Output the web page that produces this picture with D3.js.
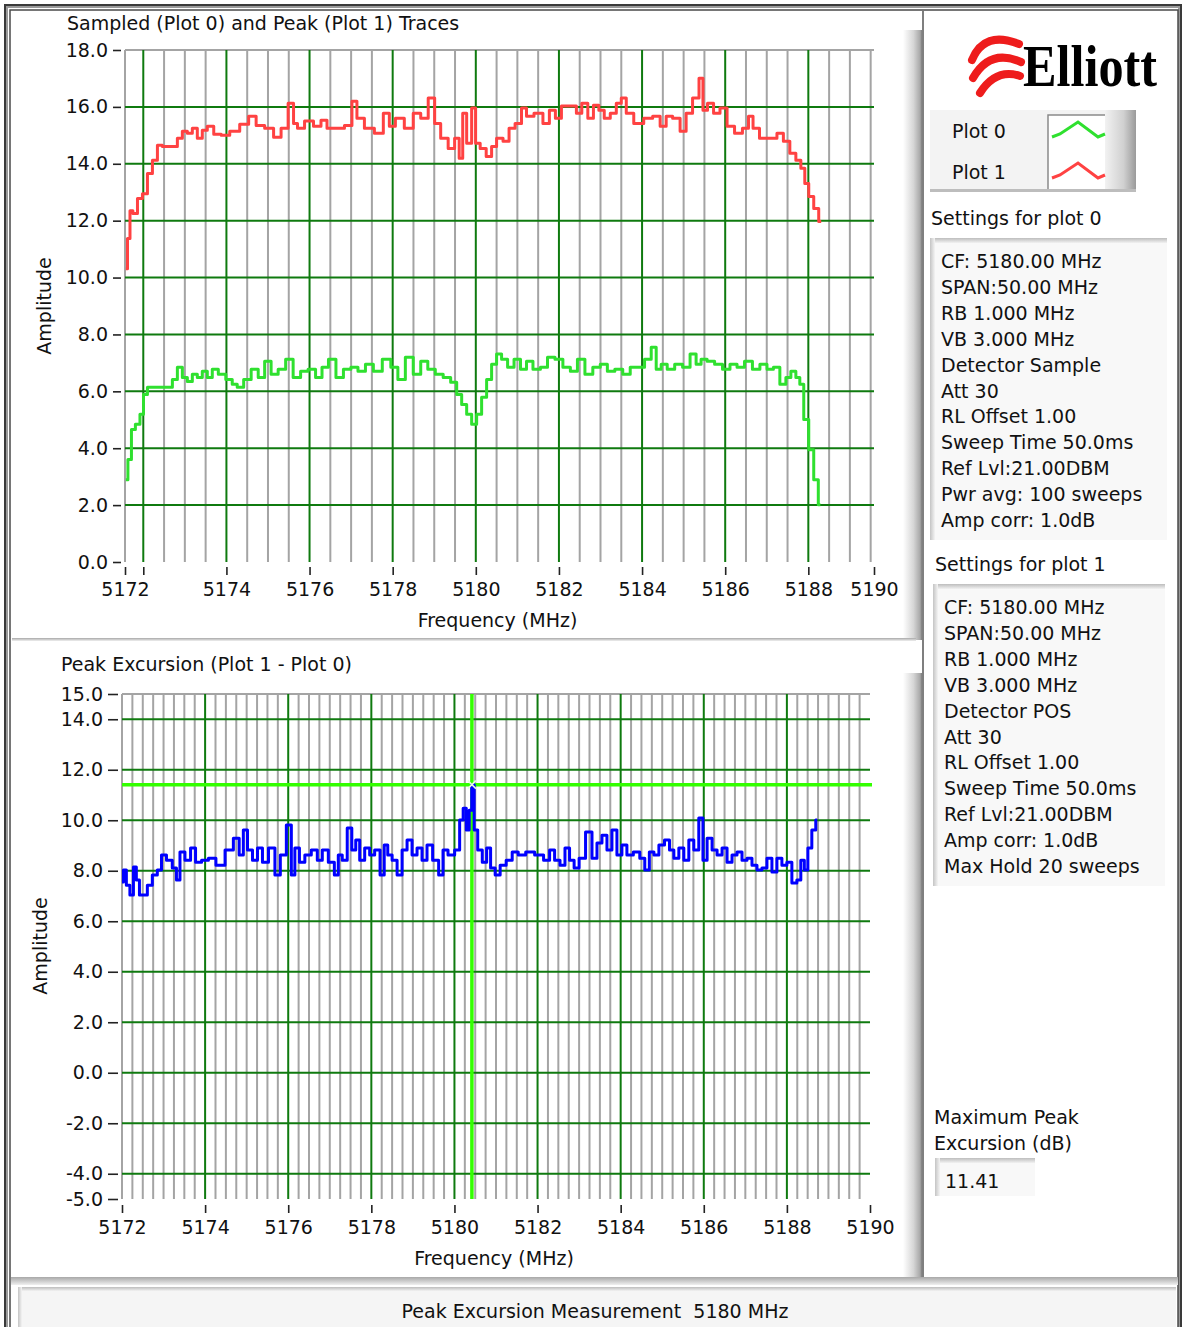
<!DOCTYPE html>
<html><head><meta charset="utf-8">
<script src="https://cdn.jsdelivr.net/npm/d3@7"></script>
<style>
body{margin:0;background:#fff;}
svg{display:block;font-family:"DejaVu Sans",sans-serif;}
</style></head><body>
<svg id="c" width="1183" height="1327"></svg>
<script>
// ---------------- DATA ----------------
// Plot 1 (Peak trace, red)
const peakFreq=[5171.58,5171.66,5171.70,5171.80,5171.92,5172.04,5172.16,5172.28,5172.40,5172.52,5172.76,5172.88,5173.00,5173.12,5173.24,5173.36,5173.48,5173.60,5173.79,5173.96,5174.20,5174.44,5174.63,5174.80,5175.04,5175.23,5175.40,5175.57,5175.66,5175.76,5176.00,5176.19,5176.36,5176.48,5176.72,5176.96,5177.08,5177.20,5177.44,5177.68,5177.87,5177.97,5178.16,5178.40,5178.59,5178.76,5178.95,5179.07,5179.24,5179.43,5179.55,5179.65,5179.72,5179.84,5179.96,5180.03,5180.18,5180.32,5180.44,5180.56,5180.75,5180.85,5181.04,5181.16,5181.28,5181.52,5181.71,5181.83,5182.00,5182.12,5182.36,5182.48,5182.62,5182.77,5182.89,5183.03,5183.15,5183.32,5183.44,5183.56,5183.68,5183.92,5184.16,5184.35,5184.52,5184.64,5184.83,5185.00,5185.12,5185.31,5185.43,5185.50,5185.65,5185.79,5185.96,5186.13,5186.32,5186.51,5186.61,5186.73,5186.92,5187.16,5187.33,5187.47,5187.64,5187.76,5187.88,5187.95,5188.07,5188.19,5188.31];
const peakAmp=[10.31,11.37,12.35,12.25,12.78,12.95,13.66,14.12,14.65,14.61,14.61,14.90,15.14,15.07,15.25,14.90,15.18,15.32,15.04,15.00,15.14,15.39,15.67,15.35,15.25,14.93,15.25,16.13,15.42,15.25,15.50,15.32,15.53,15.25,15.25,15.35,16.20,15.60,15.25,15.07,15.78,15.32,15.60,15.25,15.78,15.60,16.31,15.42,14.90,14.54,14.90,14.19,15.78,14.72,15.96,14.72,14.54,14.26,14.61,14.90,14.79,15.25,15.42,15.96,15.67,15.78,15.42,15.88,15.60,16.03,16.03,15.78,16.13,15.60,16.06,15.88,15.60,15.78,16.13,16.31,15.78,15.42,15.60,15.67,15.32,15.67,15.60,15.14,15.78,16.31,17.01,15.88,16.13,15.78,15.96,15.32,15.07,15.25,15.67,15.25,14.90,14.90,15.07,14.79,14.37,14.12,13.84,13.31,12.85,12.43,11.97];
// Plot 0 (Sampled trace, green)
const sampFreq=[5171.58,5171.68,5171.75,5171.87,5171.97,5172.04,5172.16,5172.40,5172.64,5172.76,5172.88,5173.00,5173.12,5173.24,5173.36,5173.48,5173.60,5173.72,5173.89,5174.08,5174.20,5174.32,5174.51,5174.68,5174.85,5174.99,5175.16,5175.33,5175.52,5175.69,5175.88,5176.05,5176.24,5176.36,5176.55,5176.72,5176.91,5177.08,5177.25,5177.44,5177.63,5177.87,5178.04,5178.21,5178.40,5178.59,5178.76,5178.93,5179.12,5179.31,5179.48,5179.60,5179.72,5179.84,5179.96,5180.08,5180.20,5180.32,5180.44,5180.56,5180.68,5180.85,5180.99,5181.16,5181.28,5181.47,5181.64,5181.81,5182.00,5182.19,5182.36,5182.53,5182.72,5182.91,5183.08,5183.25,5183.44,5183.63,5183.80,5183.96,5184.16,5184.28,5184.40,5184.52,5184.69,5184.88,5185.07,5185.24,5185.36,5185.48,5185.65,5185.84,5186.03,5186.20,5186.37,5186.56,5186.75,5186.92,5187.09,5187.23,5187.40,5187.52,5187.64,5187.76,5187.83,5187.95,5188.07,5188.19,5188.29];
const sampAmp=[2.89,3.60,4.66,4.84,5.19,5.89,6.14,6.14,6.14,6.42,6.85,6.49,6.35,6.60,6.49,6.71,6.49,6.78,6.60,6.42,6.25,6.14,6.42,6.78,6.49,7.06,6.60,6.78,7.13,6.49,6.71,6.78,6.49,6.85,7.13,6.49,6.78,6.85,6.71,6.95,6.71,7.13,6.85,6.42,7.20,6.60,7.06,6.78,6.60,6.49,6.32,5.89,5.54,5.19,4.84,5.19,5.79,6.42,6.95,7.31,7.13,6.85,7.13,6.78,7.06,6.78,6.85,7.20,7.13,6.85,6.71,7.13,6.60,6.85,6.95,6.71,6.78,6.60,6.85,6.85,7.13,7.55,6.78,6.95,6.78,6.95,6.85,7.31,6.95,7.13,7.06,6.95,6.78,6.95,6.85,7.06,6.78,6.95,6.78,6.85,6.25,6.49,6.71,6.49,6.25,5.01,3.95,2.89,2.01];
// Peak excursion (Plot 1 - Plot 0, blue)
const excFreq=[5172.00,5172.07,5172.14,5172.24,5172.31,5172.38,5172.46,5172.55,5172.67,5172.79,5172.91,5172.99,5173.15,5173.27,5173.35,5173.44,5173.59,5173.71,5173.83,5174.00,5174.16,5174.36,5174.60,5174.76,5174.88,5174.96,5175.08,5175.20,5175.32,5175.44,5175.61,5175.75,5175.87,5176.04,5176.11,5176.21,5176.33,5176.47,5176.64,5176.76,5176.88,5177.05,5177.17,5177.24,5177.36,5177.48,5177.58,5177.67,5177.77,5177.91,5178.01,5178.15,5178.27,5178.35,5178.44,5178.56,5178.68,5178.80,5178.92,5179.04,5179.16,5179.28,5179.40,5179.55,5179.69,5179.76,5179.93,5180.08,5180.17,5180.25,5180.32,5180.39,5180.44,5180.51,5180.61,5180.73,5180.82,5180.92,5181.04,5181.16,5181.33,5181.45,5181.62,5181.81,5182.05,5182.24,5182.34,5182.48,5182.60,5182.72,5182.82,5182.94,5183.06,5183.25,5183.37,5183.49,5183.61,5183.73,5183.85,5183.97,5184.09,5184.21,5184.40,5184.52,5184.64,5184.74,5184.86,5184.98,5185.13,5185.22,5185.34,5185.46,5185.58,5185.70,5185.82,5185.94,5186.02,5186.14,5186.26,5186.38,5186.50,5186.62,5186.74,5186.86,5186.98,5187.10,5187.22,5187.34,5187.46,5187.58,5187.70,5187.82,5187.94,5188.06,5188.18,5188.30,5188.37,5188.47,5188.54,5188.66,5188.73];
const excAmp=[7.55,8.03,7.43,7.04,8.15,7.63,7.04,7.04,7.43,7.83,8.03,8.62,8.42,8.11,7.63,8.74,8.42,8.90,8.34,8.42,8.50,8.22,8.82,9.29,8.62,9.61,8.82,8.42,8.90,8.34,8.90,7.83,8.62,9.81,7.83,8.90,8.34,8.62,8.82,8.42,8.82,8.34,7.83,8.62,8.42,9.69,8.82,9.22,8.42,8.90,8.62,8.82,7.83,9.02,8.62,8.42,7.83,8.82,9.22,8.62,8.90,8.42,9.02,8.42,7.83,8.82,8.62,8.82,10.01,10.48,9.61,10.40,11.41,9.61,8.82,8.34,8.90,8.11,7.83,8.22,8.42,8.74,8.62,8.74,8.62,8.42,8.82,8.42,8.22,8.90,8.42,8.11,8.50,9.53,8.50,9.10,9.41,8.82,9.61,8.62,9.02,8.62,8.74,8.50,8.03,8.74,8.62,9.02,9.22,8.82,8.50,8.90,8.42,9.22,8.82,10.09,8.42,9.29,8.82,8.62,8.90,8.34,8.62,8.74,8.42,8.50,8.22,8.03,8.11,8.50,7.95,8.50,8.22,8.34,7.51,7.63,8.42,8.03,8.90,9.61,10.01];

const topYTicks=[0,2,4,6,8,10,12,14,16,18];
const topXTicks=[5171.56,5172,5174,5176,5178,5180,5182,5184,5186,5188,5189.58];
const topXLabels=["5172","","5174","5176","5178","5180","5182","5184","5186","5188","5190"];
const botYTicks=[15,14,12,10,8,6,4,2,0,-2,-4,-5];
const botXTicks=[5172,5174,5176,5178,5180,5182,5184,5186,5188,5190];
const maxPeak=11.41, cursorFreq=5180.42;
const legendNames=["Plot 0","Plot 1"];
const settings0=["CF: 5180.00 MHz","SPAN:50.00 MHz","RB 1.000 MHz","VB 3.000 MHz","Detector Sample","Att 30","RL Offset 1.00","Sweep Time 50.0ms","Ref Lvl:21.00DBM","Pwr avg: 100 sweeps","Amp corr: 1.0dB"];
const settings1=["CF: 5180.00 MHz","SPAN:50.00 MHz","RB 1.000 MHz","VB 3.000 MHz","Detector POS","Att 30","RL Offset 1.00","Sweep Time 50.0ms","Ref Lvl:21.00DBM","Amp corr: 1.0dB","Max Hold 20 sweeps"];

// ---------------- DRAWING ----------------
const svg=d3.select("#c");
const FS=19;
const GRAY="#a4a4a4", DKG="#0f7a0f";
const fmt1=v=>d3.format(".1f")(v).replace("\u2212","-");
const defs=svg.append("defs");
function hgrad(id,stops){const g=defs.append("linearGradient").attr("id",id).attr("x1",0).attr("x2",1).attr("y1",0).attr("y2",0);stops.forEach(s=>g.append("stop").attr("offset",s[0]).attr("stop-color",s[1]));}
function vgrad(id,stops){const g=defs.append("linearGradient").attr("id",id).attr("x1",0).attr("x2",0).attr("y1",0).attr("y2",1);stops.forEach(s=>g.append("stop").attr("offset",s[0]).attr("stop-color",s[1]));}
hgrad("bevR",[[0,"#ffffff"],[0.55,"#d6d6d6"],[0.9,"#a8a8a8"],[1,"#7a7a7a"]]);
hgrad("legR",[[0,"#f2f2f2"],[0.6,"#d0d0d0"],[1,"#9a9a9a"]]);
vgrad("inTop",[[0,"#bdbdbd"],[1,"#f2f2f2"]]);
hgrad("inLeft",[[0,"#c4c4c4"],[1,"#f4f4f4"]]);
vgrad("sep",[[0,"#a8a8a8"],[1,"#f0f0f0"]]);

// outer frame
svg.append("rect").attr("x",5).attr("y",5).attr("width",1176).attr("height",1330).attr("fill","none").attr("stroke","#3a3a3a").attr("stroke-width",2);
svg.append("rect").attr("x",7).attr("y",7).attr("width",1172).attr("height",1330).attr("fill","none").attr("stroke","#9a9a9a").attr("stroke-width",2);
svg.append("rect").attr("x",10).attr("y",10).attr("width",1168).attr("height",1330).attr("fill","none").attr("stroke","#4a4a4a").attr("stroke-width",1.5);

// right panel border
svg.append("line").attr("x1",923).attr("x2",923).attr("y1",11).attr("y2",1278).attr("stroke","#555").attr("stroke-width",1.5);
// bevel strips
svg.append("rect").attr("x",903).attr("y",30).attr("width",19).attr("height",610).attr("fill","url(#bevR)");
svg.append("rect").attr("x",903).attr("y",673).attr("width",19).attr("height",605).attr("fill","url(#bevR)");
svg.append("rect").attr("x",12).attr("y",638).attr("width",904).attr("height",3).attr("fill","url(#sep)");
svg.append("rect").attr("x",11).attr("y",1277).attr("width",1167).attr("height",8).attr("fill","url(#sep)");

// status bar
svg.append("rect").attr("x",18).attr("y",1287).attr("width",1158).attr("height",45).attr("fill","#f5f5f5");
svg.append("rect").attr("x",18).attr("y",1287).attr("width",1158).attr("height",4).attr("fill","url(#inTop)");
svg.append("rect").attr("x",18).attr("y",1287).attr("width",4).attr("height",45).attr("fill","url(#inLeft)");
svg.append("text").attr("x",595).attr("y",1318).attr("text-anchor","middle").attr("font-size",FS).attr("fill","#111").style("white-space","pre").text("Peak Excursion Measurement  5180 MHz");

// ---------- chart helper ----------
function chart(o){
  const g=svg.append("g");
  const x=d3.scaleLinear().domain(o.xd).range(o.xr);
  const y=d3.scaleLinear().domain(o.yd).range(o.yr);
  const [x0,x1]=o.xr, [yb,yt]=o.yr;
  g.selectAll(null).data(o.minorX).join("line").attr("x1",d=>x(d)).attr("x2",d=>x(d)).attr("y1",yt).attr("y2",yb).attr("stroke",GRAY).attr("stroke-width",2);
  g.append("line").attr("x1",x0).attr("x2",x1).attr("y1",yt).attr("y2",yt).attr("stroke",GRAY).attr("stroke-width",2);
  g.append("line").attr("x1",x0).attr("x2",x0).attr("y1",yt).attr("y2",yb).attr("stroke",GRAY).attr("stroke-width",2);
  g.selectAll(null).data(o.majorY).join("line").attr("x1",x0).attr("x2",x1).attr("y1",d=>y(d)).attr("y2",d=>y(d)).attr("stroke",DKG).attr("stroke-width",2);
  g.selectAll(null).data(o.majorX).join("line").attr("x1",d=>x(d)).attr("x2",d=>x(d)).attr("y1",yt).attr("y2",yb).attr("stroke",DKG).attr("stroke-width",2);
  const ya=d3.axisLeft(y).tickValues(o.yTicks).tickSize(o.yTickSize).tickPadding(5).tickFormat(fmt1);
  const yg=g.append("g").attr("transform",`translate(${o.yAxisX},0)`).call(ya);
  const xa=d3.axisBottom(x).tickValues(o.xTicks).tickSize(8).tickPadding(7).tickFormat(o.xFmt);
  const xg=g.append("g").attr("transform",`translate(0,${o.xAxisY})`).call(xa);
  [yg,xg].forEach(a=>{a.select(".domain").remove();a.selectAll("text").attr("font-size",FS).attr("font-family","DejaVu Sans").attr("fill","#111");a.selectAll("line").attr("stroke","#222").attr("stroke-width",1.6);});
  xg.selectAll("text").attr("dy","0.76em");
  g.append("text").attr("x",o.title[0]).attr("y",o.title[1]).attr("font-size",FS).attr("fill","#111").text(o.title[2]);
  g.append("text").attr("x",(x0+x1)/2-2).attr("y",o.xLabelY).attr("text-anchor","middle").attr("font-size",FS).attr("fill","#111").text("Frequency (MHz)");
  g.append("text").attr("transform",`translate(${o.yLabel[0]},${o.yLabel[1]}) rotate(-90)`).attr("text-anchor","middle").attr("font-size",FS).attr("fill","#111").text("Amplitude");
  return {g,x,y};
}

// ---------- top chart ----------
const T=chart({xd:[5171.56,5189.58],xr:[125,874],yd:[0,18],yr:[562,50],
  minorX:d3.range(5172.5,5189.6,0.5).filter(v=>v%2!==0),
  majorX:d3.range(5172,5188.1,2), majorY:[2,4,6,8,10,12,14,16],
  yTicks:topYTicks,yTickSize:8,yAxisX:121,xTicks:topXTicks,xAxisY:567,
  xFmt:(d,i)=>topXLabels[i],title:[67,30,"Sampled (Plot 0) and Peak (Plot 1) Traces"],
  xLabelY:627,yLabel:[51,306]});
const lineT=d3.line().x(d=>T.x(d[0])).y(d=>T.y(d[1])).curve(d3.curveStep);
T.g.append("path").datum(d3.zip(sampFreq,sampAmp)).attr("d",lineT).attr("fill","none").attr("stroke","#2fe02f").attr("stroke-width",3).attr("stroke-linejoin","round");
T.g.append("path").datum(d3.zip(peakFreq,peakAmp)).attr("d",lineT).attr("fill","none").attr("stroke","#ff4242").attr("stroke-width",3).attr("stroke-linejoin","round");

// ---------- bottom chart ----------
const B=chart({xd:[5172,5190],xr:[122,870],yd:[-5,15],yr:[1199,694],
  minorX:d3.range(5172.25,5190,0.25).filter(v=>!(v%2===0&&v>=5174&&v<=5188)),
  majorX:d3.range(5174,5188.1,2), majorY:[14,12,10,8,6,4,2,0,-2,-4],
  yTicks:botYTicks,yTickSize:10,yAxisX:118,xTicks:botXTicks,xAxisY:1205,
  xFmt:d3.format("d"),title:[61,671,"Peak Excursion (Plot 1 - Plot 0)"],
  xLabelY:1265,yLabel:[47,946]});
B.g.append("line").attr("x1",B.x(5172)).attr("x2",872).attr("y1",B.y(maxPeak)).attr("y2",B.y(maxPeak)).attr("stroke","#33ff00").attr("stroke-width",3.5);
B.g.append("line").attr("x1",B.x(cursorFreq)).attr("x2",B.x(cursorFreq)).attr("y1",694).attr("y2",1199).attr("stroke","#33ff00").attr("stroke-width",3.5);
const lineB=d3.line().x(d=>B.x(d[0])).y(d=>B.y(d[1])).curve(d3.curveStep);
B.g.append("path").datum(d3.zip(excFreq,excAmp)).attr("d",lineB).attr("fill","none").attr("stroke","#0000ff").attr("stroke-width",3).attr("stroke-linejoin","round");
const cx=B.x(cursorFreq), cy=B.y(maxPeak);
B.g.append("path").attr("d",`M${cx-4},${cy-4}L${cx+4},${cy+4}M${cx-4},${cy+4}L${cx+4},${cy-4}`).attr("stroke","#e8ffe0").attr("stroke-width",1.5);

// ---------- right panel ----------
const logo=svg.append("g");
["M972,60 Q984,30 1019,44","M973,78 Q990,48 1021,62","M980,93 Q996,68 1020,76"].forEach(p=>logo.append("path").attr("d",p).attr("fill","none").attr("stroke","#ee1c1c").attr("stroke-width",8).attr("stroke-linecap","round"));
logo.append("text").attr("x",1023).attr("y",86).attr("font-family","Liberation Serif").attr("font-weight","bold").attr("font-size",60).attr("textLength",134).attr("lengthAdjust","spacingAndGlyphs").attr("fill","#000").text("Elliott");

// legend
svg.append("rect").attr("x",930).attr("y",110).attr("width",176).attr("height",81).attr("fill","#f3f3f3");
svg.append("rect").attr("x",1105).attr("y",110).attr("width",31).attr("height",81).attr("fill","url(#legR)");
svg.append("rect").attr("x",930).attr("y",189).attr("width",206).attr("height",3).attr("fill","#bdbdbd");
svg.append("rect").attr("x",1048).attr("y",115).attr("width",57).attr("height",74).attr("fill","#fff");
svg.append("path").attr("d","M1048,189V115H1105").attr("fill","none").attr("stroke","#8a8a8a").attr("stroke-width",1.5);
const legColors=["#2fe02f","#ff4242"];
legendNames.forEach((n,i)=>{
  const yy=138+i*41;
  svg.append("text").attr("x",952).attr("y",yy).attr("font-size",FS).attr("fill","#111").text(n);
  svg.append("path").attr("d",`M1052,${yy-1}L1060,${yy-4}L1078,${yy-16}L1098,${yy-1}L1105,${yy-4}`).attr("fill","none").attr("stroke",legColors[i]).attr("stroke-width",3);
});

function box(x,y,w,h){
  svg.append("rect").attr("x",x).attr("y",y).attr("width",w).attr("height",h).attr("fill","#f8f8f8");
  svg.append("rect").attr("x",x).attr("y",y).attr("width",w).attr("height",5).attr("fill","url(#inTop)");
  svg.append("rect").attr("x",x).attr("y",y).attr("width",5).attr("height",h).attr("fill","url(#inLeft)");
}
svg.append("text").attr("x",931).attr("y",225).attr("font-size",FS).attr("fill","#111").text("Settings for plot 0");
box(930,238,237,302);
settings0.forEach((s,i)=>svg.append("text").attr("x",941).attr("y",268+i*25.9).attr("font-size",FS).attr("fill","#111").text(s));
svg.append("text").attr("x",935).attr("y",571).attr("font-size",FS).attr("fill","#111").text("Settings for plot 1");
box(933,584,232,302);
settings1.forEach((s,i)=>svg.append("text").attr("x",944).attr("y",614+i*25.9).attr("font-size",FS).attr("fill","#111").text(s));

svg.append("text").attr("x",934).attr("y",1124).attr("font-size",FS).attr("fill","#111").text("Maximum Peak");
svg.append("text").attr("x",934).attr("y",1150).attr("font-size",FS).attr("fill","#111").text("Excursion (dB)");
box(935,1158,100,38);
svg.append("text").attr("x",945).attr("y",1188).attr("font-size",FS).attr("fill","#111").text(d3.format(".2f")(maxPeak));
</script></body></html>
